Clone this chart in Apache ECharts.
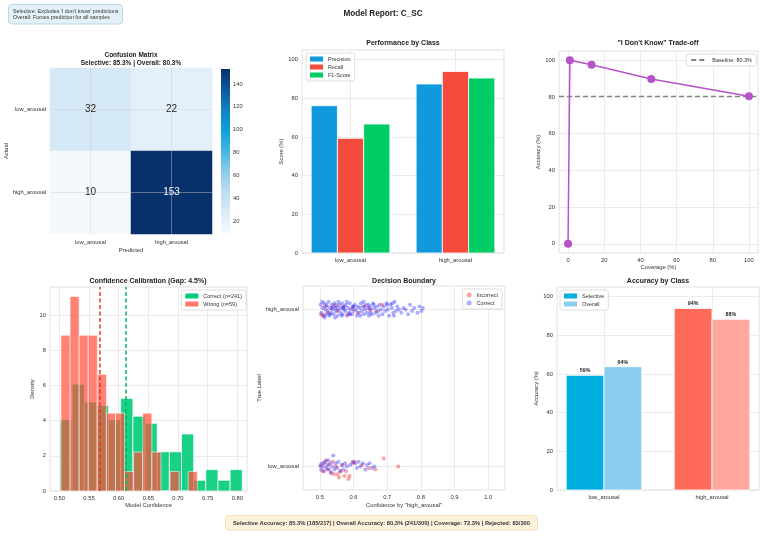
<!DOCTYPE html>
<html>
<head>
<meta charset="utf-8">
<title>Model Report: C_SC</title>
<script src="https://cdn.jsdelivr.net/npm/echarts@6/dist/echarts.min.js"></script>
<style>
html, body { margin: 0; padding: 0; background: #fff; }
#chart { width: 766px; height: 537px; }
</style>
</head>
<body>
<div id="chart"></div>
<script>
// ---- data ----
const classNames = ["low_arousal", "high_arousal"];
const confusion = [[32, 22], [10, 153]]; // rows = actual, cols = predicted
const cbTicks = [20, 40, 60, 80, 100, 120, 140];

const metricNames = ["Precision", "Recall", "F1-Score"];
const precision = [76.2, 87.4];
const recall = [59.3, 93.9];
const f1 = [66.7, 90.5];
const pctTicks = [0, 20, 40, 60, 80, 100];

const coverage = [0, 1, 13, 46, 100];
const idkAccuracy = [0, 100, 97.5, 89.8, 80.3];
const baseline = 80.3;

// histograms: first bin edge, bin width, counts per bin
const correctStart = 0.5011, correctWidth = 0.02049;
const correctCounts = [20, 30, 25, 24, 20, 26, 21, 19, 11, 11, 16, 3, 6, 3, 6];
const wrongStart = 0.5028, wrongWidth = 0.01532;
const wrongCounts = [8, 10, 8, 8, 6, 4, 4, 1, 2, 4, 2, 0, 1, 0, 1];
const correctMean = 0.6124, wrongMean = 0.5685;
const confTicks = [0.5, 0.55, 0.6, 0.65, 0.7, 0.75, 0.8];
const densityTicks = [0, 2, 4, 6, 8, 10];

// decision boundary: [confidence, jitter] per true-label row
const highCorrect = [[0.502,0.03],[0.505,-0.02],[0.508,0.01],[0.511,-0.04],[0.513,0.04],[0.516,0.0],[0.518,-0.03],[0.521,0.02],[0.523,-0.01],[0.526,0.05],[0.528,-0.04],[0.531,0.01],[0.533,-0.02],[0.536,0.03],[0.538,0.0],[0.541,-0.03],[0.543,0.04],[0.546,0.01],[0.548,-0.01],[0.551,0.02],[0.553,-0.04],[0.556,0.0],[0.558,0.03],[0.561,-0.02],[0.563,0.01],[0.566,0.04],[0.568,-0.03],[0.571,0.0],[0.573,0.02],[0.576,-0.01],[0.578,0.03],[0.581,-0.04],[0.584,0.01],[0.587,-0.02],[0.589,0.04],[0.592,0.0],[0.595,-0.03],[0.598,0.02],[0.601,-0.01],[0.604,0.03],[0.607,0.0],[0.61,-0.04],[0.613,0.02],[0.616,-0.02],[0.619,0.01],[0.622,0.04],[0.625,-0.01],[0.628,0.02],[0.631,-0.03],[0.634,0.0],[0.637,0.03],[0.64,-0.02],[0.643,0.01],[0.646,-0.04],[0.649,0.02],[0.652,0.0],[0.655,-0.03],[0.658,0.04],[0.662,0.01],[0.666,-0.02],[0.67,0.02],[0.674,-0.01],[0.678,0.03],[0.682,0.0],[0.686,-0.03],[0.69,0.02],[0.694,-0.01],[0.698,0.04],[0.702,0.0],[0.706,-0.04],[0.71,0.03],[0.714,0.01],[0.718,-0.02],[0.722,0.05],[0.726,-0.01],[0.73,0.02],[0.735,0.0],[0.742,-0.02],[0.748,0.01],[0.755,0.0],[0.762,-0.03],[0.768,0.03],[0.774,-0.01],[0.78,0.01],[0.79,-0.02],[0.796,0.02],[0.802,-0.01],[0.806,0.01],[0.507,0.05],[0.515,-0.05],[0.52,0.03],[0.53,-0.03],[0.54,0.02],[0.545,-0.05],[0.555,0.05],[0.565,-0.04],[0.57,0.01],[0.58,0.05],[0.59,-0.03],[0.6,0.02],[0.62,-0.04],[0.63,0.05],[0.645,0.03],[0.65,-0.02],[0.66,0.03],[0.675,-0.04],[0.7,0.03],[0.715,0.04],[0.72,-0.04]];
const highWrong = [[0.503,-0.03],[0.509,-0.04],[0.514,0.02],[0.524,-0.02],[0.535,0.01],[0.547,0.03],[0.552,-0.01],[0.569,0.02],[0.583,-0.03],[0.597,0.01],[0.612,-0.02],[0.633,0.02],[0.648,0.0],[0.668,-0.01],[0.685,0.03]];
const lowCorrect = [[0.501,0.01],[0.504,-0.02],[0.507,0.02],[0.51,0.0],[0.513,-0.03],[0.516,0.03],[0.519,-0.01],[0.522,0.01],[0.525,0.04],[0.528,-0.02],[0.531,0.02],[0.534,-0.04],[0.537,0.0],[0.54,0.07],[0.543,-0.02],[0.547,0.02],[0.551,-0.01],[0.555,0.03],[0.56,-0.03],[0.565,0.01],[0.57,-0.02],[0.575,0.02],[0.58,0.0],[0.59,0.01],[0.598,0.03],[0.605,0.02],[0.61,-0.01],[0.615,0.03],[0.62,0.0],[0.628,0.02],[0.635,-0.02],[0.64,0.01],[0.648,0.02],[0.655,-0.01],[0.662,0.0]];
const lowWrong = [[0.503,0.0],[0.508,-0.03],[0.512,0.02],[0.518,0.04],[0.523,-0.02],[0.527,0.01],[0.532,-0.04],[0.538,0.03],[0.542,-0.05],[0.548,0.0],[0.553,-0.05],[0.557,-0.07],[0.562,-0.03],[0.568,0.01],[0.573,-0.06],[0.578,-0.03],[0.585,-0.08],[0.588,-0.06],[0.597,0.02],[0.603,0.03],[0.625,0.01],[0.645,-0.01],[0.665,-0.02],[0.69,0.05],[0.733,0.0]];
const decisionTicks = [0.5, 0.6, 0.7, 0.8, 0.9, 1.0];

const selectiveAcc = [59.3, 93.9];
const overallAcc = [63.8, 88.3];

// ---- styling ----
const FONT = "Liberation Sans, Arial, sans-serif";
const TXT = "#333";
const GRIDLINE = "#e6e6e6";
const blues = ["#f4f9fe", "#dcebf7", "#bcdcf0", "#8ccbea", "#45b6e4", "#0aa3da", "#1180c4", "#0e58a0", "#08306b"];
const metricColors = ["#1099dc", "#f44b3c", "#00cc66"];
const selColors = ["#00aee0", "#ff6b5b"];
const ovColors = ["#8bcdee", "#ffa89f"];

function valAxis(grid, min, max, ticks, fmt, extra) {
  return Object.assign({
    type: "value", gridIndex: grid, min: min, max: max,
    axisLine: { show: false },
    axisTick: { show: false, customValues: ticks },
    axisLabel: { customValues: ticks, formatter: fmt, color: TXT, fontSize: 5.8, margin: 4, fontFamily: FONT },
    splitLine: { show: true, lineStyle: { color: GRIDLINE, width: 0.8 } },
    nameLocation: "middle",
    nameTextStyle: { color: TXT, fontSize: 5.8, fontFamily: FONT }
  }, extra || {});
}
const className = v => classNames[v];

function barRender(half, colors, withLabel) {
  return function (params, api) {
    const x = api.value(0), y = api.value(1);
    const a = api.coord([x - half, y]);
    const b = api.coord([x + half, 0]);
    const fill = colors ? colors[params.dataIndex] : api.visual("color");
    const children = [{
      type: "rect",
      shape: { x: a[0], y: a[1], width: b[0] - a[0], height: b[1] - a[1] },
      style: { fill: fill, stroke: "#fff", lineWidth: 0.8 }
    }];
    if (withLabel) {
      children.push({
        type: "text", x: (a[0] + b[0]) / 2, y: a[1] - 2,
        style: { text: Math.round(y) + "%", align: "center", verticalAlign: "bottom",
                 fontSize: 5.3, fontWeight: "bold", fontFamily: FONT, fill: "#222" }
      });
    }
    return { type: "group", children: children };
  };
}

function histRender(color, opacity) {
  return function (params, api) {
    const a = api.coord([api.value(0), api.value(2)]);
    const b = api.coord([api.value(1), 0]);
    return {
      type: "rect",
      shape: { x: a[0], y: a[1], width: b[0] - a[0], height: b[1] - a[1] },
      style: { fill: color, opacity: opacity, stroke: "#fff", lineWidth: 0.8 }
    };
  };
}
function histData(start, width, counts) {
  const n = counts.reduce((s, c) => s + c, 0);
  return counts.map((c, i) => [start + i * width, start + (i + 1) * width, c / (n * width)]);
}

const heatData = [];
confusion.forEach((row, r) => row.forEach((v, c) => {
  heatData.push({ value: [c, r, v], label: { color: v > 100 ? "#fff" : "#222" } });
}));
const cbMin = Math.min(...confusion.flat()), cbMax = Math.max(...confusion.flat());

const legendBase = {
  orient: "vertical", itemGap: 2, padding: [3, 4],
  backgroundColor: "rgba(255,255,255,0.9)", borderColor: "#d6d6d6", borderWidth: 0.8, borderRadius: 2,
  textStyle: { color: TXT, fontSize: 5.5, fontFamily: FONT }
};

function titleText(text, x, y, size, extra) {
  return Object.assign({
    type: "text", x: x, y: y,
    style: { text: text, align: "center", verticalAlign: "middle", fontSize: size || 7,
             fontWeight: "bold", fontFamily: FONT, fill: "#222", lineHeight: 8.5 }
  }, extra || {});
}

const chart = echarts.init(document.getElementById("chart"), null, { renderer: "canvas" });
chart.setOption({
  backgroundColor: "#fff",
  animation: false,
  textStyle: { fontFamily: FONT },
  grid: [
    { left: 50, top: 68, width: 162, height: 166 },
    { left: 221, top: 69, width: 9, height: 164 },
    { left: 302, top: 50, width: 202, height: 203, show: true, borderColor: "#d9d9d9", borderWidth: 0.8 },
    { left: 559, top: 51, width: 199, height: 202, show: true, borderColor: "#d9d9d9", borderWidth: 0.8 },
    { left: 50, top: 287, width: 197, height: 204, show: true, borderColor: "#d9d9d9", borderWidth: 0.8 },
    { left: 303, top: 286, width: 202, height: 204, show: true, borderColor: "#d9d9d9", borderWidth: 0.8 },
    { left: 557, top: 287, width: 202, height: 203, show: true, borderColor: "#d9d9d9", borderWidth: 0.8 }
  ],
  xAxis: [
    { type: "category", gridIndex: 0, data: classNames, name: "Predicted", nameLocation: "middle", nameGap: 13,
      nameTextStyle: { color: TXT, fontSize: 5.8 },
      axisLine: { show: false }, axisTick: { show: false }, splitLine: { show: false },
      axisLabel: { color: TXT, fontSize: 5.8, margin: 5 } },
    { type: "value", gridIndex: 1, min: 0, max: 1, show: false },
    valAxis(2, -0.4625, 1.4625, [0, 1], className),
    valAxis(3, -5, 105, pctTicks, null, { name: "Coverage (%)", nameGap: 11 }),
    valAxis(4, 0.4843, 0.8164, confTicks, v => v.toFixed(2), { name: "Model Confidence", nameGap: 11 }),
    valAxis(5, 0.45, 1.05, decisionTicks, v => v.toFixed(1), { name: "Confidence by \"high_arousal\"", nameGap: 12 }),
    valAxis(6, -0.435, 1.435, [0, 1], className)
  ],
  yAxis: [
    { type: "category", gridIndex: 0, data: classNames, inverse: true, name: "Actual", nameLocation: "middle", nameGap: 40,
      nameTextStyle: { color: TXT, fontSize: 5.8 },
      axisLine: { show: false }, axisTick: { show: false }, splitLine: { show: false },
      axisLabel: { color: TXT, fontSize: 5.8, margin: 4 } },
    { type: "value", gridIndex: 1, min: cbMin, max: cbMax, position: "right",
      axisLine: { show: false }, splitLine: { show: false },
      axisTick: { show: true, length: 2, customValues: cbTicks, lineStyle: { color: TXT, width: 0.6 } },
      axisLabel: { customValues: cbTicks, color: TXT, fontSize: 5.8, margin: 3 } },
    valAxis(2, 0, 105, pctTicks, null, { name: "Score (%)", nameGap: 14 }),
    valAxis(3, -5, 105, pctTicks, null, { name: "Accuracy (%)", nameGap: 18 }),
    valAxis(4, 0, 11.6, densityTicks, null, { name: "Density", nameGap: 12 }),
    valAxis(5, -0.15, 1.15, [0, 1], className, { name: "True Label", nameGap: 39 }),
    valAxis(6, 0, 105, pctTicks, null, { name: "Accuracy (%)", nameGap: 17 })
  ],
  visualMap: {
    type: "continuous", show: false, min: cbMin, max: cbMax, seriesIndex: 0,
    inRange: { color: blues }
  },
  legend: [
    Object.assign({}, legendBase, { left: 306, top: 53, icon: "rect", itemWidth: 13, itemHeight: 5,
      data: metricNames }),
    Object.assign({}, legendBase, { right: 10, top: 54, itemWidth: 16, itemHeight: 6,
      itemStyle: { opacity: 0 }, data: ["Baseline: 80.3%"] }),
    Object.assign({}, legendBase, { right: 520, top: 290, icon: "rect", itemWidth: 13, itemHeight: 5,
      data: ["Correct (n=241)", "Wrong (n=59)"] }),
    Object.assign({}, legendBase, { right: 264, top: 289, icon: "circle", itemWidth: 5, itemHeight: 5,
      data: ["Incorrect", "Correct"] }),
    Object.assign({}, legendBase, { left: 560, top: 290, icon: "rect", itemWidth: 13, itemHeight: 5,
      data: ["Selective", "Overall"] })
  ],
  series: [
    { type: "heatmap", xAxisIndex: 0, yAxisIndex: 0, data: heatData,
      label: { show: true, fontSize: 10, formatter: p => p.value[2] } },
    { type: "custom", xAxisIndex: 1, yAxisIndex: 1, silent: true, data: [[0, cbMin, cbMax]],
      renderItem: function (params, api) {
        const a = api.coord([0, cbMax]), b = api.coord([1, cbMin]);
        return { type: "rect", shape: { x: a[0], y: a[1], width: b[0] - a[0], height: b[1] - a[1] },
          style: { fill: new echarts.graphic.LinearGradient(0, 1, 0, 0,
            blues.map((c, i) => ({ offset: i / (blues.length - 1), color: c }))) } };
      } },
    // faint grid lines crossing the heatmap cell centres
    { type: "custom", xAxisIndex: 0, yAxisIndex: 0, silent: true, z: 5,
      data: classNames.map((c, i) => [i, i]),
      renderItem: function (params, api) {
        const cs = params.coordSys;
        const p = api.coord([api.value(0), api.value(1)]);
        const st = { stroke: "rgba(205,205,205,0.55)", lineWidth: 0.8 };
        return { type: "group", children: [
          { type: "line", shape: { x1: p[0], y1: cs.y, x2: p[0], y2: cs.y + cs.height }, style: st },
          { type: "line", shape: { x1: cs.x, y1: p[1], x2: cs.x + cs.width, y2: p[1] }, style: st }
        ] };
      } },
    // performance by class
    ...[precision, recall, f1].map((vals, j) => ({
      type: "custom", name: metricNames[j], xAxisIndex: 2, yAxisIndex: 2,
      itemStyle: { color: metricColors[j] },
      data: vals.map((v, i) => [i + (j - 1) * 0.25, v]),
      renderItem: barRender(0.125)
    })),
    // "I don't know" trade-off
    { type: "line", name: "Baseline: 80.3%", xAxisIndex: 3, yAxisIndex: 3, symbol: "none",
      data: [[-5, baseline], [105, baseline]],
      itemStyle: { color: "#808080" },
      lineStyle: { color: "#808080", width: 1.3, type: [5, 3] } },
    { type: "line", name: "tradeoff", xAxisIndex: 3, yAxisIndex: 3, symbol: "circle", symbolSize: 8,
      data: coverage.map((c, i) => [c, idkAccuracy[i]]),
      itemStyle: { color: "#b553c8" }, lineStyle: { color: "#b553c8", width: 1.5 } },
    // confidence calibration
    { type: "custom", name: "Correct (n=241)", xAxisIndex: 4, yAxisIndex: 4,
      itemStyle: { color: "#00cc77" }, encode: { x: [0, 1], y: 2 },
      data: histData(correctStart, correctWidth, correctCounts),
      renderItem: histRender("#00cc77", 0.9) },
    { type: "custom", name: "Wrong (n=59)", xAxisIndex: 4, yAxisIndex: 4,
      itemStyle: { color: "#ff7a6a" }, encode: { x: [0, 1], y: 2 },
      data: histData(wrongStart, wrongWidth, wrongCounts),
      renderItem: histRender("#ff4d3a", 0.7) },
    { type: "line", name: "wrongMean", xAxisIndex: 4, yAxisIndex: 4, symbol: "none",
      data: [[wrongMean, 0], [wrongMean, 11.6]], lineStyle: { color: "#e8382a", width: 1.5, type: [4, 2.5] } },
    { type: "line", name: "correctMean", xAxisIndex: 4, yAxisIndex: 4, symbol: "none",
      data: [[correctMean, 0], [correctMean, 11.6]], lineStyle: { color: "#00b85c", width: 1.5, type: [4, 2.5] } },
    // decision boundary
    { type: "scatter", name: "Incorrect", xAxisIndex: 5, yAxisIndex: 5, symbolSize: 4,
      itemStyle: { color: "rgba(255,0,0,0.45)" },
      data: highWrong.map(p => [p[0], 1 + p[1]]).concat(lowWrong.map(p => [p[0], p[1]])) },
    { type: "scatter", name: "Correct", xAxisIndex: 5, yAxisIndex: 5, symbolSize: 4,
      itemStyle: { color: "rgba(0,0,255,0.4)" },
      data: highCorrect.map(p => [p[0], 1 + p[1]]).concat(lowCorrect.map(p => [p[0], p[1]])) },
    // accuracy by class
    { type: "custom", name: "Selective", xAxisIndex: 6, yAxisIndex: 6, itemStyle: { color: selColors[0] },
      data: selectiveAcc.map((v, i) => [i - 0.175, v]), renderItem: barRender(0.175, selColors, true) },
    { type: "custom", name: "Overall", xAxisIndex: 6, yAxisIndex: 6, itemStyle: { color: ovColors[0] },
      data: overallAcc.map((v, i) => [i + 0.175, v]), renderItem: barRender(0.175, ovColors, true) }
  ],
  graphic: [
    titleText("Model Report: C_SC", 383, 14, 8.2),
    titleText("Confusion Matrix\nSelective: 85.3% | Overall: 80.3%", 131, 59, 6.5),
    titleText("Performance by Class", 403, 43),
    titleText("\"I Don't Know\" Trade-off", 658, 43),
    titleText("Confidence Calibration (Gap: 4.5%)", 148, 281),
    titleText("Decision Boundary", 404, 281),
    titleText("Accuracy by Class", 658, 281),
    { type: "rect", shape: { x: 8.5, y: 4.5, width: 114, height: 19.5, r: 3 },
      style: { fill: "#e4f1f8", stroke: "#a9d2e6", lineWidth: 0.8 } },
    { type: "text", x: 13, y: 14.2,
      style: { text: "Selective: Excludes 'I don't know' predictions\nOverall: Forces prediction for all samples",
               fontSize: 5.35, lineHeight: 6.0, fontFamily: FONT, fill: "#333", verticalAlign: "middle" } },
    { type: "rect", shape: { x: 225.5, y: 515.5, width: 312, height: 14.5, r: 3 },
      style: { fill: "#fdf2dc", stroke: "#f3d8a6", lineWidth: 0.8 } },
    { type: "text", x: 381.5, y: 523,
      style: { text: "Selective Accuracy: 85.3% (185/217) | Overall Accuracy: 80.3% (241/300) | Coverage: 72.3% | Rejected: 83/300",
               fontSize: 5.75, fontWeight: "bold", fontFamily: FONT, fill: "#333", align: "center", verticalAlign: "middle" } }
  ]
});
</script>
</body>
</html>
